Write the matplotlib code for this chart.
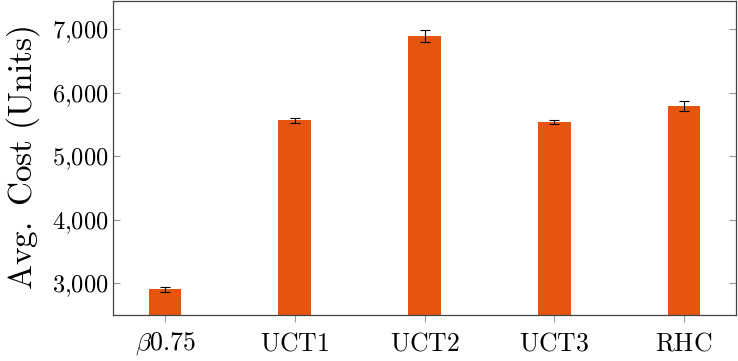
import matplotlib.pyplot as plt
import matplotlib.ticker as mticker
import numpy as np

plt.rcParams['mathtext.fontset'] = 'cm'
plt.rcParams['font.family'] = 'DejaVu Serif'

# Daten
methoden = [r'$\beta0.75$', r'$\mathrm{UCT1}$', r'$\mathrm{UCT2}$', r'$\mathrm{UCT3}$', r'$\mathrm{RHC}$']
kosten = [2905, 5565, 6890, 5535, 5785]
fehler = [40, 40, 95, 30, 75]

fig = plt.figure(figsize=(7.38, 3.61), dpi=100)
ax = fig.add_axes([113 / 738, 1 - 315 / 361, (736 - 113) / 738, (315 - 1) / 361])

x = np.arange(len(methoden))
ax.bar(x, kosten, width=0.25, color='#E6550D', zorder=2)
ax.errorbar(x, kosten, yerr=fehler, fmt='none', ecolor='black',
            elinewidth=0.8, capsize=3.5, capthick=0.8, zorder=3)

ax.set_xlim(-0.4, 4.4)
ax.set_ylim(2500, 7440)
ax.set_xticks(x)
ax.set_xticklabels(methoden, fontsize=18.5)
ax.set_yticks([3000, 4000, 5000, 6000, 7000])
ax.yaxis.set_major_formatter(mticker.FuncFormatter(
    lambda v, p: r'$\mathrm{%d{,}%03d}$' % (int(v) // 1000, int(v) % 1000)))
ax.tick_params(axis='y', labelsize=17.5, direction='in', length=5, color='#999999', right=True)
ax.tick_params(axis='x', direction='out', length=5, color='#999999', pad=6)
ax.set_ylabel(r'$\mathrm{Avg.\ Cost\ (Units)}$', fontsize=24, labelpad=7)

for s in ax.spines.values():
    s.set_color('#444444')
    s.set_linewidth(0.9)

fig.savefig('out.png', dpi=100)
